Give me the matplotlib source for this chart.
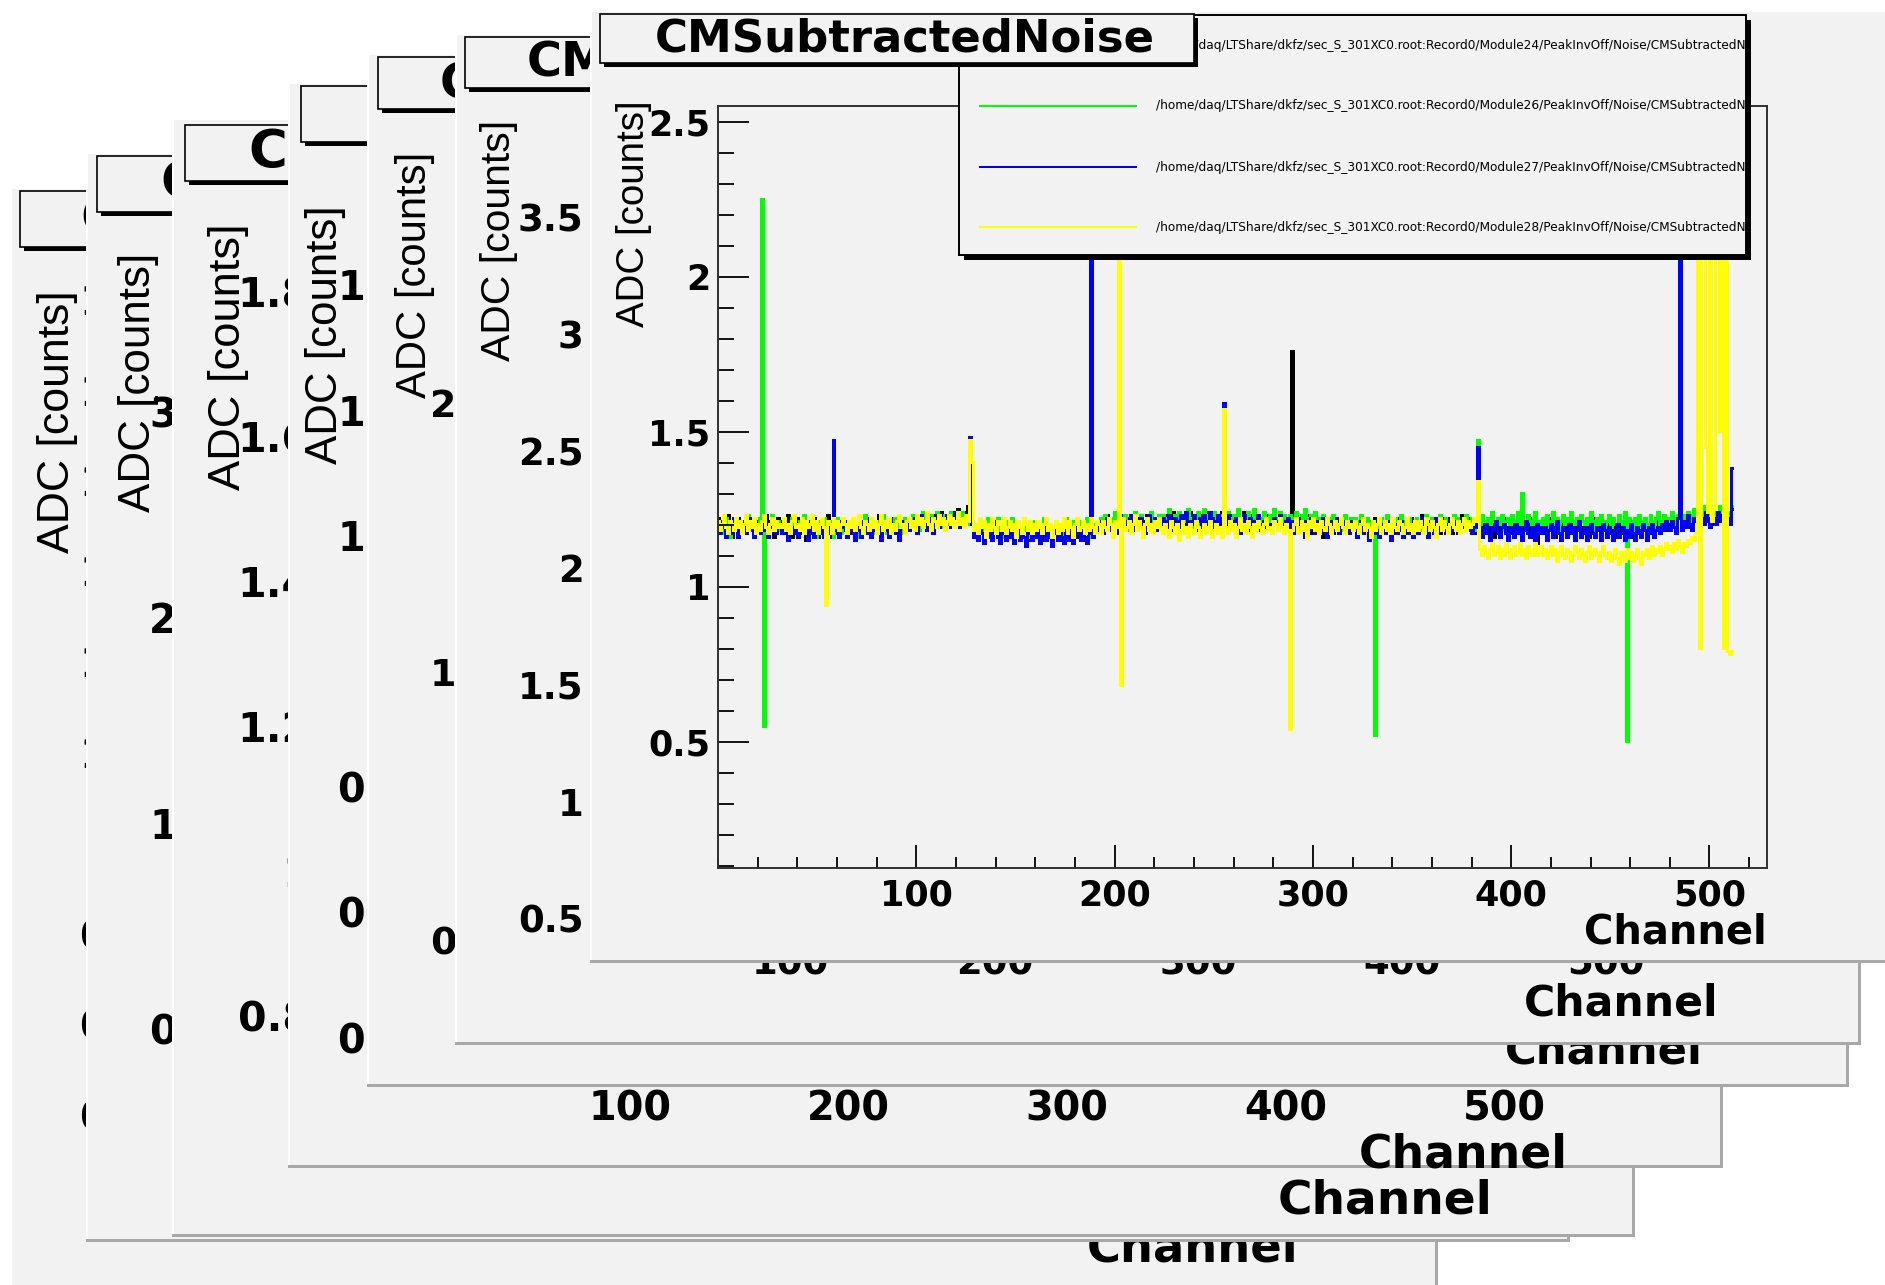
import numpy as np
import matplotlib.pyplot as plt
from matplotlib.patches import Rectangle
from matplotlib.ticker import FixedLocator, MultipleLocator, FuncFormatter

plt.rcParams['font.family'] = ['DejaVu Sans']
plt.rcParams['font.weight'] = 'bold'

# ---------------- data ----------------
hist_title = 'CMSubtractedNoise'
x_title = 'Channel'
y_title = 'ADC [counts]'
modules = ['Module24', 'Module26', 'Module27', 'Module28']
legend_labels = ['/home/daq/LTShare/dkfz/sec_S_301XC0.root:Record0/' + m +
                 '/PeakInvOff/Noise/CMSubtractedNoise' for m in modules]
line_colors = ['#000000', '#00ff00', '#0000ff', '#ffff00']
channel_edges = np.arange(513)
x_ticks = [100, 200, 300, 400, 500]

# noise per channel in hundredths of ADC counts, 32 channels per line
noise_black = """
122 118 121 117 120 123 119 116 121 118 122 120 117 121 119 123 118 120 116 121 119 122 117 120 123 118 121 119 116 120 122 118
121 117 120 123 118 116 121 119 122 117 120 118 115 121 119 117 122 120 116 118 121 117 119 123 118 116 120 122 117 119 121 118
118 121 117 120 122 116 119 121 117 120 118 122 119 116 121 118 120 123 117 119 121 118 116 120 122 119 117 121 118 120 122 119
121 119 122 120 118 122 121 119 123 120 122 118 121 123 120 122 124 121 119 123 122 120 124 122 121 125 123 121 124 122 126 123
120 117 119 116 121 118 115 119 117 120 116 118 121 117 115 119 118 116 120 117 119 115 118 121 117 116 119 118 115 120 117 119
116 119 117 115 120 118 116 119 114 117 120 118 115 117 119 116 118 121 117 115 118 116 120 117 115 119 118 116 120 117 119 118
119 122 118 121 123 119 120 117 122 120 118 123 121 119 122 120 118 121 124 119 122 120 117 121 123 119 122 120 118 122 121 123
120 123 121 118 122 124 120 121 119 123 121 118 122 120 124 121 119 122 120 123 121 118 122 124 120 121 123 119 122 120 124 121
122 119 121 123 118 120 122 119 121 124 120 118 121 123 119 122 120 118 122 121 119 123 120 118 121 122 119 121 123 118 120 122
121 118 120 122 117 119 121 118 120 123 119 117 120 122 118 121 119 116 120 122 118 120 117 121 119 122 118 120 117 121 119 120
118 121 119 117 122 120 118 121 119 116 120 122 118 121 119 117 120 123 119 118 121 117 120 122 118 119 121 117 120 122 118 120
121 118 120 123 119 117 121 120 118 122 119 121 117 120 122 118 121 119 117 122 120 118 121 123 119 120 118 122 120 117 121 119
118 121 117 119 122 118 120 116 121 119 117 120 122 118 119 121 117 120 118 122 119 116 120 121 118 120 122 117 119 114 118 120
120 117 119 122 118 120 116 121 119 117 120 122 118 119 121 117 120 118 122 119 117 121 119 116 120 122 118 119 121 117 120 118
118 121 117 120 116 119 122 118 120 117 121 119 116 120 118 121 119 117 120 122 118 119 121 117 120 118 122 119 121 120 118 121
120 123 121 119 122 124 120 122 121 123 119 122 124 121 123 120 122 125 121 123 122 120 124 122 121 125 123 122 124 121 123 125
"""
noise_green = """
121 118 120 117 122 119 116 120 122 118 121 119 117 121 120 123 118 119 121 117 120 122 118 121 119 116 120 123 118 120 121 118
118 121 119 116 120 122 118 120 117 121 119 123 118 117 120 122 119 116 121 118 120 122 117 119 121 118 116 120 122 119 117 121
120 117 121 119 122 118 120 116 121 119 123 118 120 122 117 119 121 118 120 123 119 117 121 120 118 122 119 121 117 120 122 119
121 119 123 120 122 118 121 124 120 122 119 123 121 120 124 122 119 121 123 120 122 124 121 119 123 122 120 124 121 123 122 120
122 118 120 117 121 119 116 120 122 118 121 117 119 122 118 120 116 121 119 117 122 120 118 121 117 119 122 118 120 116 121 119
118 121 117 119 122 118 116 120 119 117 121 118 120 116 119 122 117 120 118 121 116 119 121 117 120 118 122 119 116 120 118 121
120 122 119 123 121 118 122 120 124 121 119 122 120 123 118 121 122 120 124 119 121 123 120 118 122 121 124 120 122 119 123 121
123 120 122 125 121 119 123 121 124 122 120 123 121 125 122 119 123 121 124 120 122 125 121 123 120 122 124 121 119 123 122 124
121 124 122 119 123 121 125 122 120 123 121 124 119 122 125 121 123 120 122 124 121 119 123 122 125 120 122 124 121 123 119 122
123 120 122 124 121 119 123 121 125 122 120 123 121 124 119 122 120 123 121 118 122 120 123 119 121 122 118 120 123 121 119 122
120 122 118 121 123 119 120 122 117 121 119 123 120 118 122 121 119 123 120 117 121 122 119 120 123 118 121 119 122 120 117 121
122 119 121 118 120 123 121 119 122 120 117 121 123 119 120 122 118 121 119 123 120 122 118 121 120 123 119 121 122 118 120 122
120 123 121 118 122 120 124 121 119 122 120 123 118 121 122 119 123 121 120 124 119 122 120 118 123 121 119 122 124 120 121 119
122 120 123 119 121 124 120 122 118 121 123 120 122 119 124 121 120 122 118 123 121 119 122 120 124 121 118 122 120 123 121 119
121 123 119 122 120 118 123 121 120 124 119 122 121 118 122 120 123 119 121 122 118 120 123 121 119 122 124 120 121 123 119 122
121 124 122 120 123 125 121 123 122 124 120 123 125 122 124 121 123 126 122 124 123 121 125 123 122 126 124 123 125 122 124 126
"""
noise_blue = """
120 117 119 121 116 118 120 117 122 119 116 120 118 121 117 119 122 118 116 120 119 117 121 118 120 116 119 122 118 117 120 119
117 120 118 115 121 119 117 120 116 118 121 117 119 115 120 118 116 121 119 117 120 116 118 121 117 119 115 120 118 116 121 119
119 116 118 121 117 115 120 118 116 121 119 117 120 116 118 121 117 119 115 120 118 121 116 119 117 120 118 115 121 119 117 120
118 121 119 122 117 120 123 119 121 118 122 120 117 121 123 119 122 120 118 123 121 119 122 120 124 121 119 122 120 123 121 119
120 116 118 115 119 117 114 118 116 119 115 117 120 116 114 118 117 115 119 116 118 114 117 119 115 118 116 113 117 119 115 118
116 118 114 117 119 115 118 116 113 117 119 115 118 116 114 119 117 115 118 114 116 119 117 115 118 116 114 117 119 116 118 120
118 121 117 119 122 118 120 116 121 119 117 122 120 118 121 119 123 120 118 121 119 122 120 117 121 123 119 120 122 118 121 120
122 119 121 123 120 118 122 121 119 123 120 122 124 119 121 120 123 118 121 122 119 123 121 120 124 122 119 121 123 120 122 119
120 123 119 121 118 122 120 117 121 123 119 120 122 118 121 119 123 120 117 121 122 119 120 118 122 121 119 123 120 118 121 122
119 121 117 120 122 118 119 121 116 120 118 122 119 117 121 120 118 122 119 116 120 121 118 120 122 117 119 121 118 120 117 121
118 120 116 119 121 117 118 120 115 119 121 117 118 116 120 119 117 121 118 115 119 120 117 119 121 116 118 120 117 119 116 120
120 117 119 122 118 120 116 121 119 117 122 120 118 121 119 117 120 122 118 119 121 117 120 122 119 118 121 120 117 122 119 121
119 116 118 120 117 115 119 118 121 117 116 119 120 117 115 119 118 116 120 117 119 115 118 121 117 116 119 118 115 120 117 119
117 119 115 118 120 116 118 121 117 115 119 118 116 120 117 119 115 118 121 116 117 119 115 118 120 117 116 119 118 115 120 118
116 119 117 115 118 120 116 117 119 115 118 116 120 117 115 119 117 116 120 118 115 119 117 120 116 118 119 117 120 118 121 119
118 121 119 117 122 120 118 121 119 123 120 118 122 121 119 123 121 120 124 122 119 123 121 120 124 122 121 123 125 122 120 123
"""
noise_yellow = """
121 118 120 123 119 117 121 120 118 122 119 121 117 120 123 118 121 119 122 117 120 118 121 123 119 117 120 122 118 121 119 120
119 122 118 120 117 121 123 119 120 118 122 117 121 119 120 123 118 121 117 120 122 119 118 121 120 117 122 119 121 118 120 122
120 117 121 119 122 118 120 123 119 117 121 120 118 122 119 121 117 120 123 118 121 119 122 117 120 118 121 123 119 120 117 121
122 119 121 118 123 120 122 119 121 124 120 118 122 121 119 123 120 122 118 121 123 120 122 119 121 124 120 122 119 123 121 120
121 118 120 117 122 119 121 116 120 118 122 119 117 121 120 118 122 117 119 121 118 120 116 121 119 117 122 120 118 121 117 120
118 121 119 117 120 122 118 120 116 119 121 117 120 118 122 119 117 121 119 116 120 122 118 119 121 117 120 118 122 119 117 121
120 117 121 119 118 122 120 116 121 119 117 120 122 118 119 121 117 120 123 118 121 119 116 120 122 118 120 117 121 119 122 118
117 120 118 116 121 119 117 120 115 118 121 117 119 116 120 118 117 121 119 116 118 120 117 119 121 116 118 120 117 119 116 120
119 117 121 118 120 116 119 122 118 120 117 121 119 116 120 118 121 119 117 120 122 118 119 117 121 120 118 122 119 117 120 118
121 118 120 122 117 119 121 118 120 116 121 119 122 118 120 117 121 119 118 122 120 117 119 121 118 120 122 119 117 121 119 120
118 121 119 117 120 122 118 120 119 116 121 118 120 122 117 119 121 118 120 117 122 119 118 121 120 117 119 122 118 120 117 121
120 118 121 119 117 122 120 118 121 119 116 120 122 118 121 119 117 120 122 119 118 121 117 120 122 118 121 119 120 122 121 123
112 110 113 111 109 112 114 110 111 113 109 112 110 114 111 109 112 113 110 111 114 110 112 109 113 111 110 112 114 110 111 113
110 112 109 111 113 110 112 108 111 113 110 109 112 111 108 110 113 111 109 112 110 108 111 113 109 111 112 110 108 111 113 110
109 111 108 110 112 109 107 111 110 108 112 109 111 108 110 112 109 107 111 110 112 109 111 113 110 112 111 113 110 112 114 112
113 111 114 112 115 113 111 114 113 115 114 116 115 117 116 120 118 122 120 124 123 121 125 122 124 126 123 125 124 126 125 128
"""

# single channels far off the noise band (ADC counts)
spikes_black = {127: 1.35, 255: 1.35, 289: 1.76}
spikes_green = {22: 2.25, 23: 0.55, 331: 0.52, 383: 1.47, 405: 1.30, 458: 0.50}
spikes_blue = {58: 1.47, 127: 1.48, 188: 3.20, 255: 1.59, 383: 1.45, 485: 3.20, 511: 1.38}
spikes_yellow = {54: 0.94, 127: 1.47, 128: 1.40, 202: 3.20, 203: 0.68, 255: 1.57,
                 288: 0.54, 383: 1.34, 494: 2.90, 495: 0.80, 496: 3.20, 497: 3.20,
                 498: 1.45, 500: 2.10, 503: 3.20, 504: 3.20, 505: 1.50, 506: 3.20,
                 507: 0.80, 508: 3.20, 509: 0.79, 510: 0.78, 511: 0.79}

# y ticks of the seven stacked canvases, back to front
yticks_list = [
    [0.7, 0.8, 0.9, 1.0, 1.1, 1.2, 1.3, 1.4, 1.5, 1.6],
    [0, 1, 2, 3],
    [0.8, 1.0, 1.2, 1.4, 1.6, 1.8],
    [0.4, 0.6, 0.8, 1.0, 1.2, 1.4, 1.6],
    [0, 1, 2],
    [0.5, 1, 1.5, 2, 2.5, 3, 3.5],
    [0.5, 1, 1.5, 2, 2.5],
]


def series(noise, spikes):
    v = np.array([int(s) for s in noise.split()]) / 100.0
    assert len(v) == 512, len(v)
    for ch, val in spikes.items():
        v[ch] = val
    return v


hists = [series(noise_black, spikes_black), series(noise_green, spikes_green),
         series(noise_blue, spikes_blue), series(noise_yellow, spikes_yellow)]

# ---------------- layout (pixels of the 1885x1285 image) ----------------
panels = [
    dict(canvas=(10, 189, 1438, 1291), frame=(160, 296, 1298, 1180), xlim=(0, 529), ylim=(0.628, 1.604),
         ystep=0.1, tbox=(20, 191, 667, 247), tx=80, ylab=(57, 290), xlab_top=1227),
    dict(canvas=(86, 154, 1570, 1242), frame=(186, 260, 1422, 1133), xlim=(0, 529), ylim=(-0.506, 3.739),
         ystep=1, tbox=(97, 156, 769, 212), tx=160, ylab=(138, 253), xlab_top=1180),
    dict(canvas=(172, 120, 1635, 1237), frame=(320, 230, 1493, 1125), xlim=(0, 529), ylim=(0.649, 1.886),
         ystep=0.2, tbox=(185, 125, 848, 181), tx=248, ylab=(228, 223), xlab_top=1178),
    dict(canvas=(288, 84, 1723, 1168), frame=(417, 211, 1568, 1078), xlim=(2.7, 529), ylim=(0.336, 1.718),
         ystep=0.2, tbox=(301, 86, 951, 142), tx=372, ylab=(326, 205), xlab_top=1132),
    dict(canvas=(367, 55, 1849, 1087), frame=(465, 158, 1703, 984), xlim=(0, 529), ylim=(-0.16, 2.911),
         ystep=1, tbox=(378, 57, 1050, 109), tx=440, ylab=(415, 152), xlab_top=1031),
    dict(canvas=(455, 35, 1861, 1045), frame=(592, 126, 1718, 935), xlim=(2.5, 555), ylim=(0.427, 3.889),
         ystep=0.5, tbox=(465, 37, 1106, 88), tx=527, ylab=(499, 120), xlab_top=983),
    dict(canvas=(590, 12, 1898, 963), frame=(718, 106, 1767, 868), xlim=(0, 529), ylim=(0.093, 2.55),
         ystep=0.5, tbox=(600, 14, 1194, 63), tx=655, ylab=(634, 100), xlab_top=912),
]
legend_box = (959, 15, 1746, 255)
legend_rows = [45, 106, 167, 227]

BG = '#f2f2f2'
EDGE = '#a8a8a8'
FIG_W, FIG_H = 1885, 1285
PT = 0.72  # points per pixel at 100 dpi

fig = plt.figure(figsize=(FIG_W / 100, FIG_H / 100), dpi=100)
fig.patch.set_facecolor('white')


def rect(l, t, r, b):
    return [l / FIG_W, 1 - b / FIG_H, (r - l) / FIG_W, (b - t) / FIG_H]


def pixel_axes(l, t, r, b, z):
    a = fig.add_axes(rect(l, t, r, b), zorder=z)
    a.set_xlim(l, r)
    a.set_ylim(b, t)
    a.axis('off')
    return a


fmt = FuncFormatter(lambda v, pos: '%g' % v)

for i, p in enumerate(panels):
    z = 10 * i
    l, t, r, b = p['canvas']
    k = (b - t) / 951.0
    front = i == len(panels) - 1

    # canvas with bevel
    cax = pixel_axes(l, t, r, b, z)
    cax.add_patch(Rectangle((l, t), r - l, b - t, fc=BG, ec='none'))
    cax.add_patch(Rectangle((l, t), 2, b - t, fc='white', ec='none'))
    cax.add_patch(Rectangle((l, b - 3), r - l, 3, fc=EDGE, ec='none'))
    cax.add_patch(Rectangle((r - 3, t), 3, b - t, fc=EDGE, ec='none'))

    fl, ft, fr, fb = p['frame']
    cax.text(p['ylab'][0], p['ylab'][1], y_title, rotation=90, ha='center', va='top',
             family='Liberation Sans', fontweight='normal', fontsize=38.5 * k * PT)
    cax.text(fr, p['xlab_top'], x_title, ha='right', va='top', fontsize=40 * k * PT)

    # frame with axes
    ax = fig.add_axes(rect(fl, ft, fr, fb), zorder=z + 1)
    ax.set_facecolor('none')
    ax.set_xlim(*p['xlim'])
    ax.set_ylim(*p['ylim'])
    ax.xaxis.set_major_locator(FixedLocator(x_ticks))
    ax.xaxis.set_minor_locator(MultipleLocator(20))
    ax.yaxis.set_major_locator(FixedLocator(yticks_list[i]))
    ax.yaxis.set_minor_locator(MultipleLocator(p['ystep'] / 5))
    ax.xaxis.set_major_formatter(fmt)
    ax.yaxis.set_major_formatter(fmt)
    for s in ax.spines.values():
        s.set_linewidth(1.4)
        s.set_color('#303030')
    xl = 0.03 * (fb - ft) * PT
    yl = 0.03 * (fr - fl) * PT
    ax.tick_params(axis='x', which='major', direction='in', length=xl, width=1.3,
                   pad=10 * k * PT, labelsize=35 * k * PT)
    ax.tick_params(axis='x', which='minor', direction='in', length=xl / 2, width=1.3)
    ax.tick_params(axis='y', which='major', direction='in', length=yl, width=1.3,
                   pad=8 * k * PT, labelsize=35 * k * PT)
    ax.tick_params(axis='y', which='minor', direction='in', length=yl / 2, width=1.3)

    if front:
        for vals, c in zip(hists, line_colors):
            ax.stairs(vals, channel_edges, color=c, lw=1.44, baseline=None, antialiased=False)

        lx0, ly0, lx1, ly1 = legend_box
        sax = pixel_axes(l, t, r, b, z + 2)
        sax.add_patch(Rectangle((lx0 + 5, ly0 + 5), lx1 - lx0, ly1 - ly0, fc='black', ec='none'))
        lax = fig.add_axes(rect(lx0, ly0, lx1, ly1), zorder=z + 3)
        lax.set_xlim(lx0, lx1)
        lax.set_ylim(ly1, ly0)
        lax.set_facecolor(BG)
        lax.set_xticks([])
        lax.set_yticks([])
        for s in lax.spines.values():
            s.set_linewidth(1.4)
            s.set_color('black')
        for ry, lab, c in zip(legend_rows, legend_labels, line_colors):
            lax.plot([980, 1136], [ry, ry], color=c, lw=1.44, antialiased=False)
            lax.text(1156, ry, lab, ha='left', va='center', fontsize=8.7,
                     fontweight='normal', clip_on=True)

    # title box
    tax = pixel_axes(l, t, r, b, z + 4)
    bl, bt, br, bb = p['tbox']
    tax.add_patch(Rectangle((bl + 4, bt + 4), br - bl, bb - bt, fc='black', ec='none'))
    tax.add_patch(Rectangle((bl, bt), br - bl, bb - bt, fc=BG, ec='black', lw=1.2))
    tax.text(p['tx'], (bt + bb) / 2, hist_title, ha='left', va='center', fontsize=45 * k * PT)

fig.savefig('out.png', dpi=100, facecolor='white')
